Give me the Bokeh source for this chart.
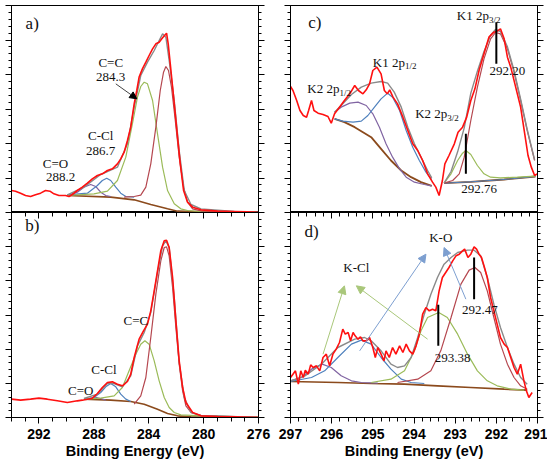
from bokeh.plotting import figure
from bokeh.models import Range1d, LinearAxis, SingleIntervalTicker, Label, Arrow, NormalHead
from bokeh.layouts import row, column
from bokeh.embed import file_html
from bokeh.resources import INLINE

# ---------------- panel a (C 1s) ----------------
a_red_x = [294.00, 293.71, 293.34, 292.98, 292.61, 292.25, 291.88, 291.52, 291.20, 290.91, 290.54, 290.06, 289.81, 289.57, 289.20, 288.84, 288.47, 288.11, 287.74, 287.38, 287.01, 286.65, 286.28, 286.04, 285.79, 285.55, 285.31, 285.06, 284.87, 284.70, 284.46, 284.21, 283.97, 283.72, 283.48, 283.24, 282.99, 282.70, 282.58, 282.43, 282.26, 282.09, 281.90, 281.70, 281.46, 281.17, 280.80, 280.19, 278.98, 277.76, 276.79, 276.05]
a_red_y = [66, 64, 58, 51, 48, 53, 58, 66, 64, 56, 51, 51, 48, 54, 66, 76, 88, 101, 111, 116, 126, 131, 146, 161, 181, 216, 256, 326, 366, 406, 431, 451, 471, 491, 506, 511, 524, 538, 506, 446, 376, 306, 226, 146, 66, 31, 16, 8, 4, 3, 2, 0]
a_grey_x = [289.93, 288.72, 287.50, 286.28, 285.55, 285.06, 284.58, 284.09, 283.60, 283.24, 282.99, 282.75, 282.51, 282.14, 281.78, 281.41, 280.92, 280.19, 277.76, 276.05]
a_grey_y = [53, 76, 114, 136, 206, 316, 411, 451, 486, 516, 536, 526, 456, 336, 186, 66, 24, 11, 3, 0]
a_cc1_x = [285.79, 285.06, 284.58, 284.21, 283.85, 283.48, 283.16, 282.92, 282.75, 282.56, 282.34, 282.09, 281.78, 281.46, 281.17, 280.80, 280.19, 277.76, 276.05]
a_cc1_y = [46, 48, 52, 76, 146, 256, 366, 421, 438, 426, 376, 286, 166, 76, 31, 11, 5, 2, 1]
a_cc2_x = [289.93, 287.99, 287.01, 286.28, 285.67, 285.19, 284.82, 284.58, 284.33, 284.09, 283.72, 283.36, 282.99, 282.63, 282.14, 281.66, 281.17, 280.19, 277.76, 276.05]
a_cc2_y = [51, 56, 64, 96, 166, 266, 346, 378, 391, 386, 336, 236, 136, 66, 26, 11, 6, 3, 2, 0]
a_ccl_x = [289.93, 288.47, 287.74, 287.38, 287.06, 286.77, 286.40, 286.04, 285.67, 285.06]
a_ccl_y = [53, 58, 81, 96, 103, 96, 76, 58, 48, 46]
a_co_x = [289.93, 289.20, 288.72, 288.23, 287.86, 287.50, 287.13, 286.77]
a_co_y = [51, 61, 76, 84, 78, 61, 51, 48]
a_bg_x = [289.93, 286.77, 285.06, 283.85, 282.63, 281.90, 280.19, 276.05]
a_bg_y = [51, 46, 38, 24, 11, 4, 2, 0]

# ---------------- panel b (C 1s) ----------------
b_red_x = [294.00, 293.34, 292.61, 292.00, 291.39, 290.66, 289.93, 289.20, 288.84, 288.47, 288.11, 287.74, 287.38, 287.01, 286.65, 286.28, 285.92, 285.55, 285.31, 285.06, 284.70, 284.38, 284.09, 283.85, 283.60, 283.36, 283.12, 282.87, 282.70, 282.51, 282.26, 282.02, 281.78, 281.53, 281.29, 280.80, 280.19, 278.98, 277.76, 276.05]
b_red_y = [55, 52, 55, 58, 55, 50, 45, 50, 52, 55, 58, 72, 90, 105, 107, 100, 95, 108, 130, 180, 235, 260, 280, 320, 380, 440, 500, 530, 532, 510, 420, 290, 170, 90, 45, 15, 5, 3, 2, 0]
b_grey_x = [288.72, 287.74, 287.01, 286.52, 285.92, 285.31, 284.82, 284.33, 283.85, 283.36, 282.99, 282.75, 282.51, 282.14, 281.78, 281.41, 280.92, 280.19, 276.05]
b_grey_y = [57, 70, 102, 102, 92, 125, 215, 255, 315, 435, 515, 530, 510, 360, 165, 60, 15, 6, 0]
b_cc1_x = [285.06, 284.58, 284.21, 283.85, 283.48, 283.12, 282.87, 282.70, 282.51, 282.26, 282.02, 281.78, 281.53, 281.29, 280.92, 280.19, 276.05]
b_cc1_y = [40, 65, 120, 240, 370, 470, 510, 512, 485, 390, 270, 160, 80, 35, 15, 6, 1]
b_cc2_x = [288.72, 287.50, 286.52, 285.92, 285.43, 284.94, 284.58, 284.28, 283.97, 283.60, 283.24, 282.87, 282.51, 282.14, 281.66, 280.19, 276.05]
b_cc2_y = [55, 58, 65, 90, 140, 190, 220, 230, 220, 170, 110, 60, 30, 15, 8, 5, 1]
b_ccl_x = [288.72, 287.99, 287.50, 287.13, 286.77, 286.40, 286.04, 285.67, 285.31]
b_ccl_y = [55, 60, 75, 92, 102, 92, 70, 55, 48]
b_co_x = [288.47, 288.11, 287.79, 287.50, 287.13]
b_co_y = [55, 58, 60, 57, 52]
b_bg_x = [288.72, 286.77, 285.31, 284.33, 283.36, 282.63, 281.90, 280.92, 276.05]
b_bg_y = [55, 52, 48, 40, 25, 12, 5, 2, 0]

# ---------------- panel c (K 2p) ----------------
c_red_x = [297.00, 296.94, 296.85, 296.77, 296.69, 296.61, 296.56, 296.49, 296.43, 296.33, 296.21, 296.09, 296.01, 295.93, 295.81, 295.69, 295.56, 295.44, 295.35, 295.24, 295.16, 295.08, 295.00, 294.90, 294.80, 294.72, 294.65, 294.59, 294.51, 294.40, 294.27, 294.15, 294.03, 293.91, 293.79, 293.67, 293.55, 293.47, 293.39, 293.31, 293.25, 293.15, 293.02, 292.93, 292.82, 292.72, 292.62, 292.52, 292.42, 292.30, 292.18, 292.06, 291.98, 291.90, 291.81, 291.73, 291.65, 291.53, 291.41, 291.31, 291.23, 291.15, 291.07, 291.01]
c_red_y = [378, 366, 336, 306, 291, 286, 306, 336, 306, 298, 294, 288, 268, 296, 316, 336, 356, 381, 366, 356, 368, 386, 426, 436, 416, 366, 356, 368, 346, 326, 286, 246, 206, 186, 156, 116, 91, 76, 51, 96, 146, 171, 206, 241, 256, 286, 336, 371, 426, 476, 526, 541, 544, 551, 521, 466, 436, 376, 316, 236, 171, 136, 111, 116]
c_grey1_x = [295.93, 295.77, 295.52, 295.28, 295.04, 294.80, 294.64, 294.48, 294.31, 294.15, 293.99, 293.83, 293.67, 293.57]
c_grey1_y = [301, 321, 354, 376, 388, 393, 388, 361, 316, 256, 206, 166, 126, 104]
c_grey2_x = [293.27, 293.10, 292.94, 292.78, 292.62, 292.46, 292.30, 292.14, 292.02, 291.90, 291.73, 291.57, 291.41, 291.25, 291.07]
c_grey2_y = [88, 123, 182, 254, 358, 424, 483, 532, 549, 543, 497, 426, 340, 249, 158]
c_k2a_x = [295.93, 295.77, 295.56, 295.36, 295.16, 295.00, 294.84, 294.68, 294.52, 294.35, 294.19, 293.99, 293.75, 293.57]
c_k2a_y = [301, 316, 328, 331, 321, 296, 256, 206, 166, 131, 106, 91, 84, 80]
c_k1a_x = [295.93, 295.73, 295.48, 295.28, 295.12, 294.96, 294.80, 294.64, 294.52, 294.35, 294.19, 294.03, 293.87, 293.71, 293.57]
c_k1a_y = [281, 274, 271, 274, 291, 316, 341, 358, 346, 306, 246, 196, 156, 121, 99]
c_bg1_x = [295.93, 295.69, 295.44, 295.20, 295.04, 294.80, 294.56, 294.31, 294.07, 293.83, 293.57]
c_bg1_y = [281, 271, 256, 238, 226, 191, 156, 126, 106, 91, 80]
c_k2b_x = [293.27, 293.10, 292.94, 292.82, 292.74, 292.62, 292.46, 292.30, 292.14, 291.90, 291.49, 291.05]
c_k2b_y = [88, 116, 156, 178, 186, 174, 141, 116, 106, 104, 106, 109]
c_k1b_x = [293.27, 293.06, 292.90, 292.78, 292.62, 292.46, 292.30, 292.14, 292.02, 291.90, 291.73, 291.57, 291.41, 291.25, 291.07]
c_k1b_y = [88, 96, 116, 166, 276, 376, 461, 521, 540, 536, 491, 421, 336, 246, 156]
c_bg2_x = [293.27, 292.62, 291.81, 291.05]
c_bg2_y = [88, 92, 99, 108]
c_mark_x = [292.00, 292.74]
c_mark_y0 = [446, 116]
c_mark_y1 = [571, 236]

# ---------------- panel d (K 2p) ----------------
d_red_x = [297.00, 296.94, 296.88, 296.81, 296.75, 296.69, 296.64, 296.57, 296.51, 296.45, 296.37, 296.29, 296.21, 296.13, 296.05, 295.97, 295.89, 295.81, 295.73, 295.67, 295.60, 295.54, 295.48, 295.43, 295.36, 295.30, 295.24, 295.16, 295.08, 295.00, 294.94, 294.88, 294.80, 294.73, 294.68, 294.60, 294.52, 294.44, 294.35, 294.27, 294.19, 294.11, 294.03, 293.95, 293.87, 293.79, 293.71, 293.63, 293.55, 293.47, 293.39, 293.31, 293.23, 293.15, 293.06, 292.98, 292.90, 292.82, 292.77, 292.69, 292.62, 292.54, 292.48, 292.42, 292.36, 292.30, 292.22, 292.14, 292.06, 291.98, 291.90, 291.81, 291.73, 291.65, 291.57, 291.49, 291.41, 291.33, 291.27, 291.21, 291.13]
d_red_y = [120, 130, 140, 100, 140, 120, 142, 130, 158, 150, 155, 140, 180, 190, 155, 190, 205, 225, 265, 250, 255, 230, 255, 245, 235, 242, 230, 230, 240, 210, 180, 210, 190, 170, 200, 180, 210, 190, 215, 195, 220, 200, 190, 215, 250, 310, 330, 320, 325, 320, 380, 420, 435, 450, 470, 485, 490, 500, 505, 480, 490, 512, 505, 490, 480, 455, 420, 360, 320, 280, 240, 220, 210, 180, 150, 130, 160, 110, 80, 60, 75]
d_grey_x = [297.00, 296.65, 296.25, 295.85, 295.44, 295.20, 295.04, 294.80, 294.56, 294.40, 294.23, 294.07, 293.91, 293.75, 293.59, 293.43, 293.27, 293.10, 292.94, 292.70, 292.54, 292.38, 292.22, 292.06, 291.90, 291.73, 291.57, 291.41, 291.25]
d_grey_y = [110, 125, 160, 210, 235, 240, 230, 200, 160, 150, 155, 180, 240, 310, 370, 420, 460, 480, 495, 502, 502, 485, 420, 340, 270, 210, 160, 120, 100]
d_kcl1_x = [297.00, 296.73, 296.49, 296.23, 296.01, 295.77, 295.52, 295.28, 294.88]
d_kcl1_y = [110, 120, 145, 160, 150, 125, 110, 105, 103]
d_ko1_x = [297.00, 296.49, 296.17, 295.85, 295.52, 295.28, 295.04, 294.80, 294.56, 294.31, 294.07, 293.75]
d_ko1_y = [108, 120, 140, 180, 220, 232, 220, 180, 145, 115, 105, 102]
d_kcl2_x = [295.04, 294.56, 294.23, 293.99, 293.83, 293.67, 293.40, 293.19, 292.94, 292.70, 292.46, 292.22, 291.98, 291.65, 291.33]
d_kcl2_y = [105, 115, 140, 200, 260, 300, 315, 300, 250, 190, 140, 110, 95, 85, 82]
d_ko2_x = [294.40, 293.91, 293.59, 293.35, 293.10, 292.86, 292.66, 292.52, 292.38, 292.22, 292.06, 291.90, 291.73, 291.57, 291.41, 291.25]
d_ko2_y = [105, 115, 140, 200, 300, 400, 442, 450, 435, 380, 300, 220, 160, 120, 95, 85]
d_bg_x = [297.00, 295.85, 295.04, 294.23, 293.43, 292.62, 291.81, 291.25]
d_bg_y = [108, 105, 102, 100, 95, 90, 85, 82]
d_mark_x = [292.54, 293.41]
d_mark_y0 = [355, 215]
d_mark_y1 = [480, 338]

RED = "#ff1010"
GREY = "#8a8a8a"
MAROON = "#b5474f"
GREEN = "#9bbb59"
BLUE = "#4f81bd"
PURPLE = "#8064a2"
BROWN = "#8b4a1c"
SERIF = "Liberation Serif"
SANS = "Liberation Sans"


def make_panel(xr, yr, fw, fh, lb, rb, tb, xint, xminor, yint, bottom):
    p = figure(x_range=Range1d(*xr), y_range=Range1d(*yr), frame_width=fw, frame_height=fh,
               toolbar_location=None, output_backend="svg",
               x_axis_location=None, y_axis_location=None,
               min_border_left=lb, min_border_right=rb, min_border_top=tb, min_border_bottom=0)
    p.grid.visible = False
    p.outline_line_color = "black"
    p.outline_line_width = 1
    p.background_fill_color = "white"
    p.border_fill_color = "white"
    for side in ("left", "right"):
        ax = LinearAxis(ticker=SingleIntervalTicker(interval=yint, num_minor_ticks=5),
                        major_label_text_color=None, major_label_standoff=0,
                        major_tick_in=0, major_tick_out=6, minor_tick_in=0, minor_tick_out=3,
                        axis_line_color="black", major_tick_line_color="black",
                        minor_tick_line_color="black")
        p.add_layout(ax, side)
    if bottom:
        top = LinearAxis(ticker=SingleIntervalTicker(interval=xint, num_minor_ticks=xminor),
                         major_label_text_color=None, major_label_standoff=0,
                         major_tick_in=6, major_tick_out=0, minor_tick_in=4, minor_tick_out=0,
                         axis_line_color="black", major_tick_line_color="black",
                         minor_tick_line_color="black")
        p.add_layout(top, "above")
        bx = LinearAxis(ticker=SingleIntervalTicker(interval=xint, num_minor_ticks=xminor),
                        major_tick_in=0, major_tick_out=6, minor_tick_in=0, minor_tick_out=4,
                        major_label_standoff=5,
                        major_label_text_font=SANS, major_label_text_font_style="bold",
                        major_label_text_font_size="14px", major_label_text_color="black",
                        axis_label="Binding Energy (eV)", axis_label_standoff=1,
                        axis_label_text_font=SANS, axis_label_text_font_style="bold",
                        axis_label_text_font_size="14.5px", axis_label_text_color="black",
                        axis_line_color="black", major_tick_line_color="black",
                        minor_tick_line_color="black")
        p.add_layout(bx, "below")
    return p


def lbl(p, x, y, t, size="13px", align="center", font=SERIF):
    p.add_layout(Label(x=x, y=y, text=t, text_font=font, text_font_size=size,
                       text_align=align, text_baseline="middle", text_color="#111111"))


def sublbl(p, x, y, main, sub, dy):
    lbl(p, x, y, main, align="right")
    lbl(p, x, y - dy, sub, size="9px", align="left")


# ---- a ----
pa = make_panel((294, 276), (0, 621), 247, 207, 11, 16, 5, 4, 4, 103.5, False)
pa.line(a_bg_x, a_bg_y, line_color=BROWN, line_width=1.6)
pa.line(a_co_x, a_co_y, line_color=PURPLE, line_width=1.2)
pa.line(a_ccl_x, a_ccl_y, line_color=BLUE, line_width=1.2)
pa.line(a_cc2_x, a_cc2_y, line_color=GREEN, line_width=1.2)
pa.line(a_cc1_x, a_cc1_y, line_color=MAROON, line_width=1.2)
pa.line(a_grey_x, a_grey_y, line_color=GREY, line_width=1.4)
pa.line(a_red_x, a_red_y, line_color=RED, line_width=1.6)
lbl(pa, 292.49, 566, "a)", size="17px")
lbl(pa, 286.77, 451, "C=C")
lbl(pa, 286.77, 406, "284.3")
lbl(pa, 287.50, 231, "C-Cl")
lbl(pa, 287.50, 186, "286.7")
lbl(pa, 290.79, 146, "C=O")
lbl(pa, 290.42, 106, "288.2")
pa.add_layout(Arrow(end=NormalHead(size=7, fill_color="black", line_color="black"),
                    x_start=286.40, y_start=386, x_end=284.87, y_end=341,
                    line_color="#444444", line_width=1))

# ---- b ----
pb = make_panel((294, 276), (0, 615), 247, 205, 11, 16, 0, 4, 4, 102.5, True)
pb.line(b_bg_x, b_bg_y, line_color=BROWN, line_width=1.6)
pb.line(b_co_x, b_co_y, line_color=PURPLE, line_width=1.2)
pb.line(b_ccl_x, b_ccl_y, line_color=BLUE, line_width=1.2)
pb.line(b_cc2_x, b_cc2_y, line_color=GREEN, line_width=1.2)
pb.line(b_cc1_x, b_cc1_y, line_color=MAROON, line_width=1.2)
pb.line(b_grey_x, b_grey_y, line_color=GREY, line_width=1.4)
pb.line(b_red_x, b_red_y, line_color=RED, line_width=1.6)
lbl(pb, 292.49, 575, "b)", size="17px")
lbl(pb, 284.94, 290, "C=C")
lbl(pb, 287.26, 145, "C-Cl")
lbl(pb, 288.96, 82, "C=O")

# ---- c ----
pc = make_panel((297, 291), (0, 621), 247, 207, 16, 10, 5, 1, 5, 103.5, False)
pc.line(c_bg1_x, c_bg1_y, line_color=BROWN, line_width=1.8)
pc.line(c_bg2_x, c_bg2_y, line_color=BROWN, line_width=1.8)
pc.line(c_bg2_x, c_bg2_y, line_color=BLUE, line_width=1.0)
pc.line(c_k2a_x, c_k2a_y, line_color=PURPLE, line_width=1.2)
pc.line(c_k1a_x, c_k1a_y, line_color=BLUE, line_width=1.2)
pc.line(c_k2b_x, c_k2b_y, line_color=GREEN, line_width=1.2)
pc.line(c_k1b_x, c_k1b_y, line_color=MAROON, line_width=1.2)
pc.line(c_grey1_x, c_grey1_y, line_color=GREY, line_width=1.4)
pc.line(c_grey2_x, c_grey2_y, line_color=GREY, line_width=1.4)
pc.line(c_red_x, c_red_y, line_color=RED, line_width=1.6)
pc.segment(x0=c_mark_x, y0=c_mark_y0, x1=c_mark_x, y1=c_mark_y1, line_color="black", line_width=2)
lbl(pc, 296.41, 571, "c)", size="17px")
sublbl(pc, 295.81, 371, "K2 2p", "1/2", 12)
sublbl(pc, 294.22, 451, "K1 2p", "1/2", 12)
sublbl(pc, 293.19, 296, "K2 2p", "3/2", 12)
sublbl(pc, 292.18, 591, "K1 2p", "3/2", 12)
lbl(pc, 291.73, 426, "292.20")
lbl(pc, 292.42, 71, "292.76")

# ---- d ----
pd = make_panel((297, 291), (0, 615), 247, 205, 16, 10, 0, 1, 5, 102.5, True)
pd.line(d_bg_x, d_bg_y, line_color=BROWN, line_width=1.6)
pd.line(d_kcl1_x, d_kcl1_y, line_color=PURPLE, line_width=1.2)
pd.line(d_ko1_x, d_ko1_y, line_color=BLUE, line_width=1.2)
pd.line(d_kcl2_x, d_kcl2_y, line_color=GREEN, line_width=1.2)
pd.line(d_ko2_x, d_ko2_y, line_color=MAROON, line_width=1.2)
pd.line(d_grey_x, d_grey_y, line_color=GREY, line_width=1.4)
pd.line(d_red_x, d_red_y, line_color=RED, line_width=1.6)
pd.segment(x0=d_mark_x, y0=d_mark_y0, x1=d_mark_x, y1=d_mark_y1, line_color="black", line_width=2)
lbl(pd, 296.49, 558, "d)", size="17px")
lbl(pd, 295.40, 450, "K-Cl")
lbl(pd, 293.35, 540, "K-O")
lbl(pd, 293.06, 180, "293.38")
lbl(pd, 292.40, 322, "292.47")
for (xs, ys, xe, ye, col) in [(296.21, 190, 295.69, 395, "#a9c77a"),
                              (293.67, 235, 295.40, 395, "#a9c77a"),
                              (295.32, 200, 293.71, 490, "#7d9fd0"),
                              (292.74, 355, 293.27, 510, "#7d9fd0")]:
    pd.add_layout(Arrow(end=NormalHead(size=8, fill_color=col, line_color=col),
                        x_start=xs, y_start=ys, x_end=xe, y_end=ye,
                        line_color=col, line_width=1))

layout = row(column(pa, pb), column(pc, pd))
open("out.html", "w").write(file_html(layout, INLINE))
